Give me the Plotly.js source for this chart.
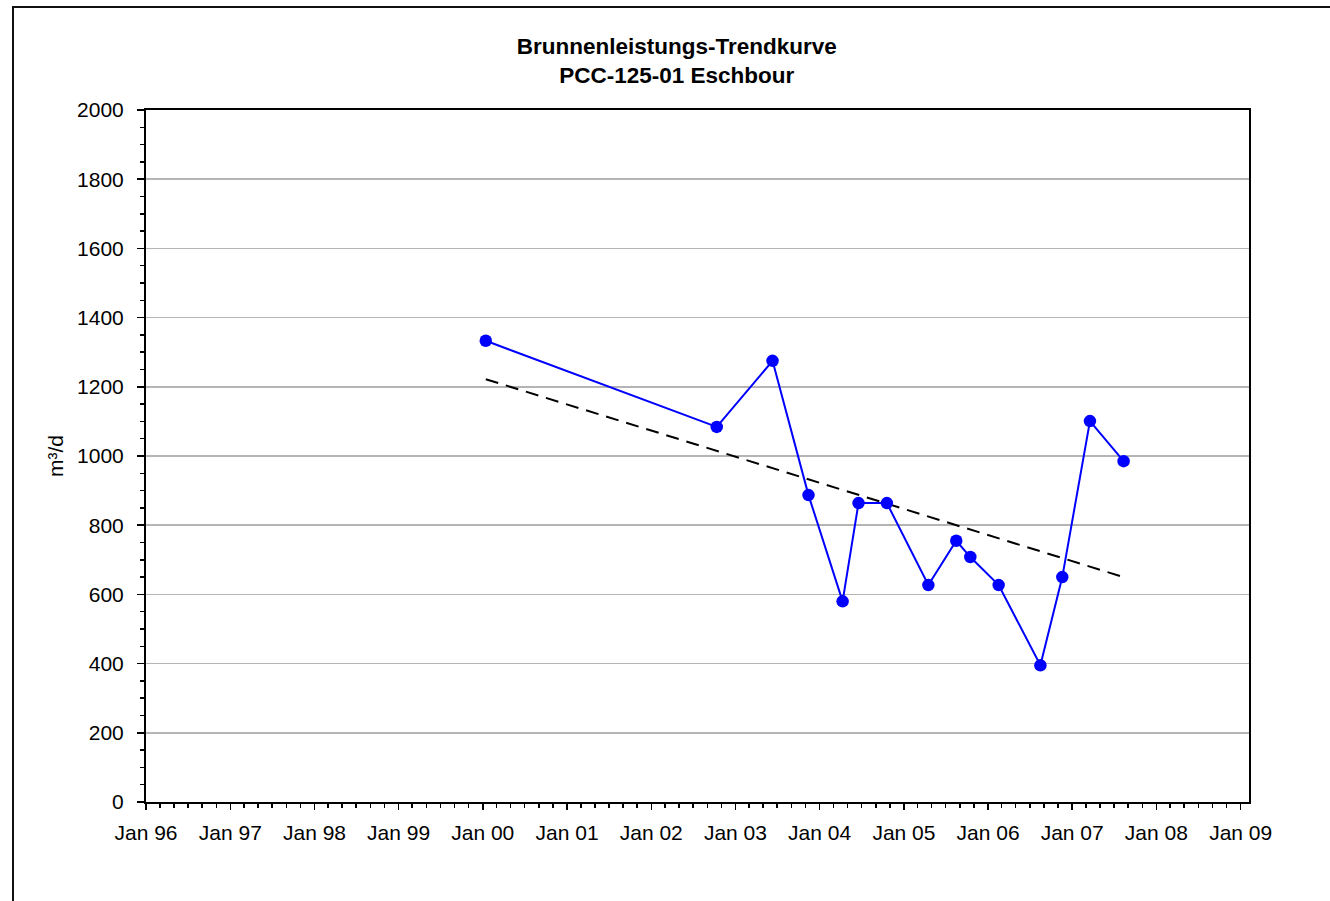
<!DOCTYPE html>
<html>
<head>
<meta charset="utf-8">
<script src="https://cdn.plot.ly/plotly-3.0.1.min.js"></script>
<style>
  html, body { margin: 0; padding: 0; background: #fff; overflow: hidden; }
  #chart { width: 1330px; height: 901px; }
  #frame { position: absolute; left: 12px; top: 6px; width: 1400px; height: 1000px;
           border: 2px solid #111; pointer-events: none; box-sizing: border-box; }
</style>
</head>
<body>
<div id="chart"></div>
<div id="frame"></div>
<script>
// Measurement dates and well yields (m³/d)
const dates = [
  '2000-01-14', '2002-10-12', '2003-06-11', '2003-11-14', '2004-04-10',
  '2004-06-18', '2004-10-19', '2005-04-17', '2005-08-16', '2005-10-16',
  '2006-02-16', '2006-08-16', '2006-11-19', '2007-03-19', '2007-08-12'
];
const yields = [1333, 1084, 1275, 887, 580, 864, 864, 627, 755, 708, 627, 395, 650, 1101, 985];

// Linear trend line (endpoints)
const trendDates = ['2000-01-14', '2007-08-12'];
const trendValues = [1222, 650];

const titleLines = ['Brunnenleistungs-Trendkurve', 'PCC-125-01 Eschbour'];
const yTitle = 'm³/d';

const FONT = 'Arial, "Liberation Sans", sans-serif';

const traces = [
  {
    x: trendDates, y: trendValues, type: 'scatter', mode: 'lines',
    line: { color: '#000000', width: 2, dash: '13px,8px' },
    hoverinfo: 'skip', showlegend: false
  },
  {
    x: dates, y: yields, type: 'scatter', mode: 'lines+markers',
    line: { color: '#0000FF', width: 2 },
    marker: { color: '#0000FF', size: 12.5 },
    showlegend: false
  }
];

const layout = {
  width: 1330, height: 901,
  paper_bgcolor: '#ffffff', plot_bgcolor: '#ffffff',
  margin: { l: 146, r: 81, t: 110, b: 99, pad: 0 },
  font: { family: FONT, size: 21, color: '#000' },
  title: {
    text: '<b>' + titleLines.join('</b><br><b>') + '</b>',
    font: { family: FONT, size: 22.5, color: '#000' },
    x: 0.5088, xanchor: 'center', y: 1 - 54 / 901, yanchor: 'middle'
  },
  xaxis: {
    type: 'date',
    range: ['1996-01-01', '2009-02-06'],
    tick0: '1996-01-01', dtick: 'M12', tickformat: '%b %y',
    ticks: 'outside', ticklen: 6, tickwidth: 1.5, tickcolor: '#000',
    minor: { dtick: 'M2', tick0: '1996-01-01', ticks: 'outside', ticklen: 4, tickwidth: 1.5, tickcolor: '#000', showgrid: false },
    showline: true, linecolor: '#000', linewidth: 2, mirror: true,
    showgrid: false, zeroline: false,
    tickfont: { family: FONT, size: 21, color: '#000' },
    ticklabelstandoff: 5
  },
  yaxis: {
    range: [0, 2000], dtick: 200, tick0: 0,
    ticks: 'outside', ticklen: 7, tickwidth: 1.5, tickcolor: '#000',
    minor: { dtick: 50, ticks: 'outside', ticklen: 4, tickwidth: 1.5, tickcolor: '#000', showgrid: false },
    showline: true, linecolor: '#000', linewidth: 2, mirror: true,
    showgrid: true, gridcolor: '#b4b4b4', gridwidth: 1.5,
    zeroline: false,
    tickfont: { family: FONT, size: 21, color: '#000' },
    ticklabelstandoff: 9,
    title: { text: yTitle, font: { family: FONT, size: 21, color: '#000' }, standoff: 8 }
  },
  showlegend: false
};

Plotly.newPlot('chart', traces, layout, { displayModeBar: false, staticPlot: true });
</script>
</body>
</html>
